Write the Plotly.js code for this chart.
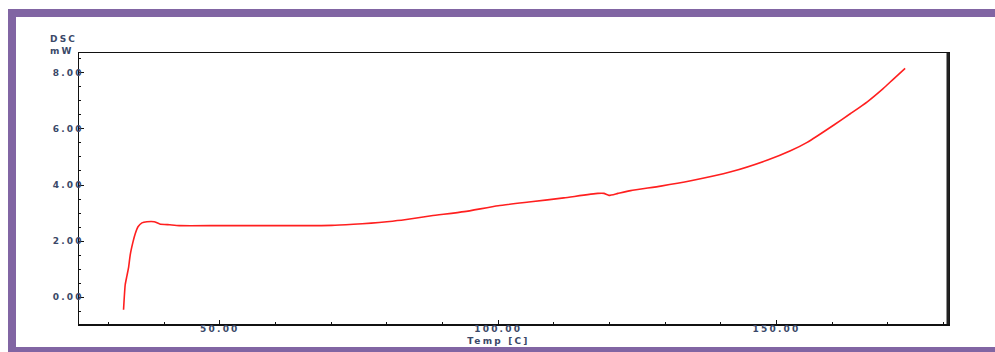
<!DOCTYPE html>
<html>
<head>
<meta charset="utf-8">
<script src="https://cdn.plot.ly/plotly-3.0.1.min.js"></script>
<style>
  html, body { margin: 0; padding: 0; background: #fff; overflow: hidden; width: 995px; height: 352px; }
  #chart { position: absolute; left: 0; top: 0; width: 995px; height: 352px; }
  #frame {
    position: absolute; left: 8px; top: 9px; width: 1100px; height: 343px;
    box-sizing: border-box; pointer-events: none;
    border-top: 8px solid #8165a3; border-left: 8px solid #8165a3; border-bottom: 5px solid #8165a3;
  }
  /* wide, short lettering for all chart text */
  #chart text { letter-spacing: 2.2px; }
</style>
</head>
<body>
<div id="chart"></div>
<div id="frame"></div>
<script>
// DSC heating curve: temperature (°C) against heat flow (mW)
const temperature = [
  32.7, 33.0, 33.3, 33.6, 33.9, 34.4, 34.8, 35.3, 36.0, 36.9,
  38.2, 39.2, 41.0, 42.7, 50.0, 60.0, 64.7, 70.1, 74.0, 77.2,
  80.0, 83.2, 88.0, 93.9, 100.0, 105.9, 111.8, 117.9, 119.0, 119.9,
  121.5, 123.8, 129.2, 134.6, 141.8, 148.4, 152.5, 155.5, 160.3, 163.3,
  166.3, 169.2, 171.0, 173.1
];
const heatFlow = [
  -0.45, 0.44, 0.75, 1.05, 1.51, 1.97, 2.26, 2.51, 2.65, 2.69,
  2.69, 2.61, 2.58, 2.55, 2.55, 2.55, 2.55, 2.56, 2.60, 2.64,
  2.69, 2.76, 2.90, 3.05, 3.26, 3.40, 3.54, 3.70, 3.70, 3.63,
  3.70, 3.80, 3.96, 4.15, 4.47, 4.89, 5.22, 5.52, 6.14, 6.55,
  6.97, 7.45, 7.78, 8.16
];

const xRange = [24.7, 180.8];
const yRange = [-0.96, 8.71];
const xTickValues = [50, 100, 150];
const yTickValues = [0, 2, 4, 6, 8];
const yAxisLabel = 'DSC<br>mW';
const xAxisLabel = 'Temp [C]';

const textFont = { family: 'DejaVu Sans, Verdana, sans-serif', size: 9, weight: 'bold', color: '#3a4868' };

const trace = {
  x: temperature,
  y: heatFlow,
  type: 'scatter',
  mode: 'lines',
  line: { color: '#ff1f1f', width: 1.6, shape: 'spline', smoothing: 0.5 },
  hoverinfo: 'skip'
};

const layout = {
  width: 995,
  height: 352,
  margin: { l: 79, r: 47, t: 53, b: 28 },
  paper_bgcolor: '#ffffff',
  plot_bgcolor: '#ffffff',
  showlegend: false,
  font: textFont,
  xaxis: {
    range: xRange,
    tickvals: xTickValues,
    tickformat: '.2f',
    ticks: 'inside',
    ticklen: 4,
    tickwidth: 1,
    tickcolor: '#111',
    ticklabelstandoff: -4,
    minor: { dtick: 10, tick0: 0, ticks: 'inside', ticklen: 2, tickcolor: '#111', showgrid: false },
    showgrid: false,
    zeroline: false,
    showline: true,
    mirror: true,
    linecolor: '#111',
    linewidth: 1.5,
    tickfont: textFont
  },
  yaxis: {
    range: yRange,
    tickvals: yTickValues,
    tickformat: '.2f',
    ticks: 'inside',
    ticklen: 5,
    tickwidth: 1,
    tickcolor: '#111',
    ticklabelstandoff: -8,
    minor: { dtick: 0.5, tick0: 0, ticks: 'inside', ticklen: 2, tickcolor: '#111', showgrid: false },
    showgrid: false,
    zeroline: false,
    showline: true,
    mirror: true,
    linecolor: '#111',
    linewidth: 1.5,
    tickfont: textFont
  },
  shapes: [
    { type: 'line', xref: 'paper', yref: 'paper', x0: 1, x1: 1, y0: 0, y1: 1,
      line: { color: '#222', width: 3 } }
  ],
  annotations: [
    // y-axis caption above the axis
    { text: yAxisLabel, xref: 'paper', yref: 'paper', x: -0.035, y: 1.075,
      xanchor: 'left', yanchor: 'top', align: 'left', showarrow: false, borderpad: 0,
      font: textFont },
    // x-axis caption under the tick labels
    { text: xAxisLabel, xref: 'paper', yref: 'paper', x: 0.4557, y: -0.061,
      xanchor: 'left', yanchor: 'middle', showarrow: false, borderpad: 0,
      font: textFont }
  ]
};

Plotly.newPlot('chart', [trace], layout, { displayModeBar: false, staticPlot: true });
</script>
</body>
</html>
